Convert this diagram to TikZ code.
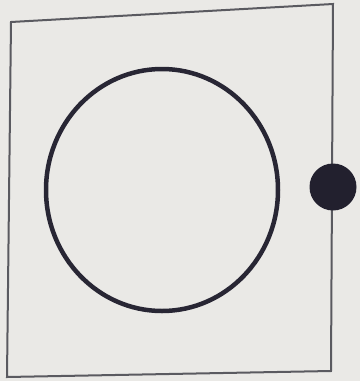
\documentclass[tikz,border=0pt]{standalone}
\definecolor{paper}{RGB}{234,233,230}
\definecolor{ringcol}{RGB}{40,38,52}
\definecolor{dotcol}{RGB}{34,32,46}
\definecolor{framecol}{RGB}{90,90,96}
\begin{document}
\begin{tikzpicture}[x=1pt,y=-1pt,
  frame/.style={draw=framecol, line width=2pt, line join=miter},
  ring/.style={draw=ringcol, line width=4.5pt},
  dot/.style={fill=dotcol}]
\fill[paper] (0,0) rectangle (360,381);
\useasboundingbox (0,0) rectangle (360,381);
\coordinate (tl) at (11,22);
\coordinate (tr) at (333,4);
\coordinate (br) at (331,371);
\coordinate (bl) at (7,377);
\draw[frame] (tl) -- (tr) -- (br) -- (bl) -- cycle;
\draw[ring] (162,190) ellipse [x radius=116, y radius=121];
\fill[dot] (333,187) circle [radius=23.5];
\end{tikzpicture}
\end{document}
